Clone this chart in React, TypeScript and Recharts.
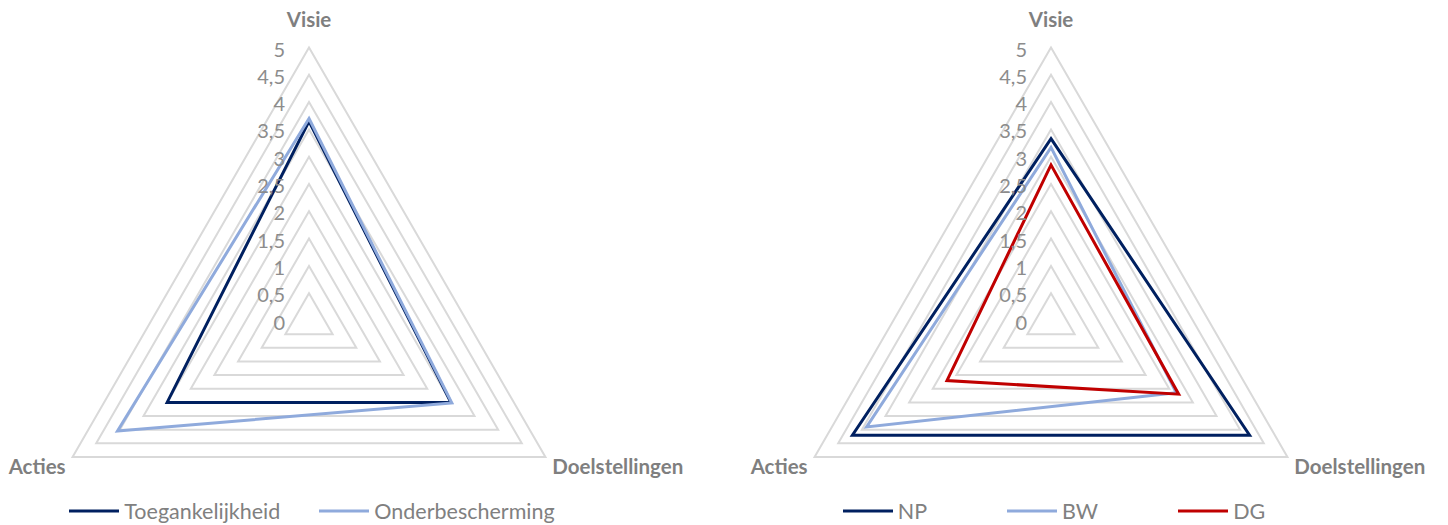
import { Legend, PolarAngleAxis, PolarGrid, PolarRadiusAxis, Radar, RadarChart } from 'recharts'

const categories = ['Visie', 'Doelstellingen', 'Acties']
const radiusTicks = [0, 0.5, 1, 1.5, 2, 2.5, 3, 3.5, 4, 4.5, 5]

const toegankelijkheid = [3.65, 3.0, 3.0]
const onderbescherming = [3.7, 3.02, 4.05]

const np = [3.33, 4.2, 4.2]
const bw = [3.17, 2.65, 3.9]
const dg = [2.85, 2.7, 2.2]

const NAVY = '#002060'
const LIGHT_BLUE = '#8faadc'
const RED = '#c00000'
const FONT = 'Lato, "Open Sans", sans-serif'

const leftData = categories.map((axis, i) => ({
  axis,
  toegankelijkheid: toegankelijkheid[i],
  onderbescherming: onderbescherming[i],
}))

const rightData = categories.map((axis, i) => ({
  axis,
  np: np[i],
  bw: bw[i],
  dg: dg[i],
}))

const leftLegend = [
  { name: 'Toegankelijkheid', color: NAVY },
  { name: 'Onderbescherming', color: LIGHT_BLUE },
]

const rightLegend = [
  { name: 'NP', color: NAVY },
  { name: 'BW', color: LIGHT_BLUE },
  { name: 'DG', color: RED },
]

function formatTick(value: number) {
  return String(value).replace('.', ',')
}

function RadiusTick({ x, y, payload }: any) {
  return (
    <text
      x={x - 24}
      y={y + 1}
      dominantBaseline="central"
      fill="#8c8c8c"
      fontFamily={FONT}
      fontSize={20}
      textAnchor="end"
    >
      {formatTick(payload.value)}
    </text>
  )
}

function AngleTick({ x, y, payload, textAnchor }: any) {
  const dy = textAnchor === 'middle' ? -21 : 5
  return (
    <text
      x={x}
      y={y + dy}
      dominantBaseline="central"
      fill="#7f7f7f"
      fontFamily={FONT}
      fontSize={20.5}
      fontWeight={700}
      textAnchor={textAnchor}
    >
      {payload.value}
    </text>
  )
}

// legend drawn from our own list so the series keep their order
function makeLegend(items: { name: string; color: string }[], gap: number) {
  return function LegendContent() {
    return (
      <div style={{ display: 'flex', justifyContent: 'center', alignItems: 'center', gap }}>
        {items.map((entry) => (
          <div key={entry.name} style={{ display: 'flex', alignItems: 'center' }}>
            <svg width={50} height={4}>
              <line x1={0} x2={50} y1={2} y2={2} stroke={entry.color} strokeWidth={3} />
            </svg>
            <span
              style={{
                marginLeft: 5,
                color: '#808080',
                fontFamily: FONT,
                fontSize: 21.5,
                lineHeight: '26px',
              }}
            >
              {entry.name}
            </span>
          </div>
        ))}
      </div>
    )
  }
}

const CX_LEFT = 309
const CX_RIGHT = 327
const CY = 320.5
const RADIUS = 273

function Axes() {
  return [
    <PolarGrid key="grid" gridType="polygon" radialLines={false} stroke="#d9d9d9" strokeWidth={2} />,
    <PolarAngleAxis key="angle" dataKey="axis" tick={AngleTick} tickLine={false} axisLine={false} />,
    <PolarRadiusAxis
      key="radius"
      angle={90}
      domain={[0, 5]}
      ticks={radiusTicks as any}
      tickCount={11}
      allowDecimals
      axisLine={false}
      tick={RadiusTick}
    />,
  ]
}

export default function App() {
  return (
    <div style={{ position: 'absolute', left: 0, top: 0, width: 1448, height: 525, background: '#fff' }}>
      <div style={{ position: 'absolute', left: 0, top: 0 }}>
        <RadarChart
          width={724}
          height={525}
          data={leftData}
          cx={CX_LEFT}
          cy={CY}
          outerRadius={RADIUS}
          margin={{ top: 0, right: 0, bottom: 0, left: 0 }}
        >
          {Axes()}
          <Radar
            name="Toegankelijkheid"
            dataKey="toegankelijkheid"
            stroke={NAVY}
            strokeWidth={3}
            fill="none"
            fillOpacity={0}
            dot={false}
            isAnimationActive={false}
          />
          <Radar
            name="Onderbescherming"
            dataKey="onderbescherming"
            stroke={LIGHT_BLUE}
            strokeWidth={3}
            fill="none"
            fillOpacity={0}
            dot={false}
            isAnimationActive={false}
          />
          <Legend
            content={makeLegend(leftLegend, 39)}
            wrapperStyle={{ left: 0, top: 498, width: CX_LEFT * 2 + 6, height: 26 }}
          />
        </RadarChart>
      </div>
      <div style={{ position: 'absolute', left: 724, top: 0 }}>
        <RadarChart
          width={724}
          height={525}
          data={rightData}
          cx={CX_RIGHT}
          cy={CY}
          outerRadius={RADIUS}
          margin={{ top: 0, right: 0, bottom: 0, left: 0 }}
        >
          {Axes()}
          <Radar name="NP" dataKey="np" stroke={NAVY} strokeWidth={3} fill="none" fillOpacity={0} dot={false} isAnimationActive={false} />
          <Radar name="BW" dataKey="bw" stroke={LIGHT_BLUE} strokeWidth={3} fill="none" fillOpacity={0} dot={false} isAnimationActive={false} />
          <Radar name="DG" dataKey="dg" stroke={RED} strokeWidth={3} fill="none" fillOpacity={0} dot={false} isAnimationActive={false} />
          <Legend
            content={makeLegend(rightLegend, 80)}
            wrapperStyle={{ left: 0, top: 498, width: CX_RIGHT * 2 + 6, height: 26 }}
          />
        </RadarChart>
      </div>
    </div>
  )
}
